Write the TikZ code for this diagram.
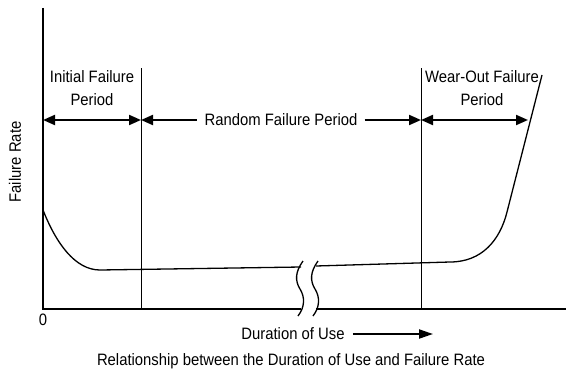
\documentclass[tikz,border=0pt]{standalone}
\usepackage{fontspec}
\setmainfont{Liberation Sans}[FakeStretch=0.9]
\usetikzlibrary{arrows.meta}
\tikzset{axis/.style={line width=1.3pt}}
\tikzset{bound/.style={line width=0.8pt}}
\tikzset{rate/.style={line width=1.3pt,line join=round}}
\tikzset{period/.style={line width=2pt,
    arrows={Triangle[length=12pt,width=10pt]-Triangle[length=12pt,width=10pt]}}}
\tikzset{lbl/.style={font=\fontsize{16.5}{22.5}\selectfont,align=center,inner sep=0pt}}

\begin{document}
\begin{tikzpicture}[x=1pt,y=-1pt]
                \useasboundingbox (0,0) rectangle (569,369);
                
                % Axes
                \coordinate (O) at (43,309);
                \coordinate (ytop) at (43,8);
                \coordinate (brkL) at (301,309);
                \coordinate (brkR) at (316,309);
                \coordinate (xend) at (566,309);
                \draw[axis] (ytop) -- (O) -- (brkL);
                \draw[axis] (brkR) -- (xend);
                
                % Period boundaries
                \coordinate (b1top) at (141,68);
                \coordinate (b1bot) at (141,309);
                \coordinate (b2top) at (421,68);
                \coordinate (b2bot) at (421,309);
                \draw[bound] (b1top) -- (b1bot);
                \draw[bound] (b2top) -- (b2bot);
                
                % Failure rate curve
                \draw[rate] (43,210) .. controls (56,243) and (75,270) .. (100,270) -- (301,267);
                \draw[rate] (316,266) -- (450,262) .. controls (482,262) and (500,240) .. (507,212) -- (542,75);
                
                % Break
                \draw[axis] (303,261) .. controls (295,272) and (295,281) .. (300,289)
                    .. controls (305,297) and (305,307) .. (298,316);
                \draw[axis] (318,261) .. controls (310,272) and (310,281) .. (315,289)
                    .. controls (320,297) and (320,307) .. (313,316);
                
                % Periods
                \coordinate (p0) at (43,120);
                \coordinate (p1) at (141,120);
                \coordinate (p2) at (421,120);
                \coordinate (p3) at (528,120);
                \node[lbl] (initial) at (92,88) {Initial Failure\\Period};
                \node[lbl,inner xsep=7pt] (random) at (281,120) {Random Failure Period};
                \node[lbl] (wearout) at (482,88) {Wear-Out Failure\\Period};
                \draw[period] (p0) -- (p1);
                \draw[period,{Triangle[length=12pt,width=10pt]}-] (p1) -- (random.west);
                \draw[period,-{Triangle[length=12pt,width=10pt]}] (random.east) -- (p2);
                \draw[period] (p2) -- (p3);
                
                % Labels
                \node[lbl,rotate=90] (rate) at (15,162) {Failure Rate};
                \node[lbl] (zero) at (43,320) {0};
                \node[lbl] (duration) at (293,334) {Duration of Use};
                \coordinate (durend) at (433,334);
                \draw[line width=2pt,-{Triangle[length=14pt,width=9pt]}] ([xshift=8pt]duration.east) -- (durend);
                \node[lbl] (caption) at (291,361) {Relationship between the Duration of Use and Failure Rate};
            \end{tikzpicture}
\end{document}
